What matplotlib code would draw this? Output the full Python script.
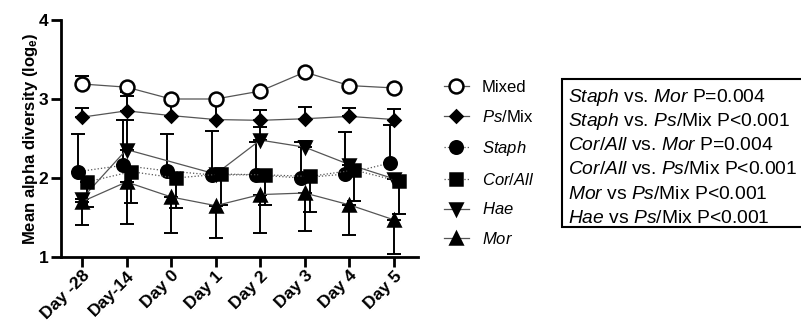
import numpy as np
import matplotlib
matplotlib.use("Agg")
import matplotlib.pyplot as plt
from matplotlib.patches import Rectangle

plt.rcParams['font.family'] = ['Liberation Sans', 'DejaVu Sans']
plt.rcParams['mathtext.fontset'] = 'custom'
plt.rcParams['mathtext.rm'] = 'Liberation Sans'
plt.rcParams['mathtext.it'] = 'Liberation Sans:italic'
plt.rcParams['mathtext.bf'] = 'Liberation Sans:bold'

days = ["Day -28", "Day-14", "Day 0", "Day 1", "Day 2", "Day 3", "Day 4", "Day 5"]
nan = np.nan

# means
mixed = [3.19, 3.15, 3.00, 3.00, 3.10, 3.34, 3.17, 3.14]
psmix = [2.77, 2.85, 2.79, 2.74, 2.73, 2.75, 2.78, 2.74]
staph = [2.08, 2.16, 2.09, 2.04, 2.04, 2.00, 2.05, 2.19]
corall = [1.95, 2.08, 2.00, 2.05, 2.04, 2.02, 2.10, 1.96]
hae = [1.74, 2.36, nan, 2.05, 2.48, 2.39, 2.17, 1.99]
mor = [1.70, 1.95, 1.76, 1.65, 1.79, 1.81, 1.66, 1.47]

# error bar ends (upper / lower), nan = not shown
mixed_hi = [3.29, nan, nan, nan, nan, nan, nan, nan]
mixed_lo = [nan, 3.09, nan, nan, nan, nan, nan, nan]
psmix_hi = [2.89, 3.04, 2.97, 2.97, 2.86, 2.90, 2.89, 2.87]
staph_hi = [2.56, 2.74, 2.56, 2.60, 2.46, 2.46, 2.58, 2.67]
hae_hi = [nan, 2.74, nan, nan, 2.65, 2.47, nan, nan]
corall_lo = [1.63, 1.68, 1.62, 1.66, 1.66, 1.57, 1.71, 1.54]
mor_lo = [1.41, 1.42, 1.30, 1.24, 1.30, 1.33, 1.28, 1.04]

legend_labels = ["Mixed", r"$\it{Ps}$/Mix", r"$\it{Staph}$", r"$\it{Cor/All}$",
                 r"$\it{Hae}$", r"$\it{Mor}$"]
stats_lines = [
    r"$\it{Staph}$ vs. $\it{Mor}$ P=0.004",
    r"$\it{Staph}$ vs. $\it{Ps}$/Mix P<0.001",
    r"$\it{Cor/All}$ vs. $\it{Mor}$ P=0.004",
    r"$\it{Cor/All}$ vs. $\it{Ps}$/Mix P<0.001",
    r"$\it{Mor}$ vs $\it{Ps}$/Mix P<0.001",
    r"$\it{Hae}$ vs $\it{Ps}$/Mix P<0.001",
]

x = np.arange(len(days))

W, H = 801, 325
fig = plt.figure(figsize=(W / 100, H / 100), dpi=100)
ax = fig.add_axes([61 / W, 1 - 257 / H, (418 - 61) / W, (257 - 20) / H])


def errs(mean, hi=None, lo=None):
    mean = np.array(mean, dtype=float)
    up = np.nan_to_num(np.array(hi, dtype=float) - mean) if hi is not None else np.zeros_like(mean)
    dn = np.nan_to_num(mean - np.array(lo, dtype=float)) if lo is not None else np.zeros_like(mean)
    return [dn, up]


def draw(xpos, mean, marker, ms, ls, face, hi=None, lo=None, z=3):
    mean = np.array(mean, dtype=float)
    ok = ~np.isnan(mean)
    e = errs(mean, hi, lo)
    ax.errorbar(xpos[ok], mean[ok], yerr=[e[0][ok], e[1][ok]], fmt='none',
                ecolor='black', elinewidth=1.4, capsize=5, capthick=1.4, zorder=z)
    line, = ax.plot(xpos[ok], mean[ok], ls=ls, color='#555555', lw=0.9,
                    marker=marker, ms=ms, mfc=face, mec='black', mew=1.8, zorder=z + 1)
    return line


h_mixed = draw(x, mixed, 'o', 10, '-', 'white', mixed_hi, mixed_lo, z=3)
h_ps = draw(x, psmix, 'D', 6.5, '-', 'black', psmix_hi, None, z=3)
h_st = draw(x - 0.09, staph, 'o', 9, ':', 'black', staph_hi, None, z=5)
h_cor = draw(x + 0.11, corall, 's', 8.5, ':', 'black', None, corall_lo, z=5)
h_hae = draw(x, hae, 'v', 9, '-', 'black', hae_hi, None, z=4)
h_mor = draw(x, mor, '^', 9, '-', 'black', None, mor_lo, z=4)

ax.set_xlim(-0.47, 7.54)
ax.set_ylim(1, 4)
ax.set_yticks([1, 2, 3, 4])
ax.set_xticks(x)
ax.set_xticklabels(days, rotation=45, ha='right', va='top', rotation_mode='anchor',
                   fontsize=12.5, fontweight='bold')
for lab in ax.get_yticklabels():
    lab.set_fontsize(12.5)
    lab.set_fontweight('bold')
ax.set_ylabel(r"Mean alpha diversity (log$_{\mathbf{e}}$)", fontsize=12,
              fontweight='bold')
ax.yaxis.set_label_coords(-0.058, 0.5)
ax.spines['top'].set_visible(False)
ax.spines['right'].set_visible(False)
ax.spines['left'].set_linewidth(2)
ax.spines['bottom'].set_linewidth(2)
ax.tick_params(width=2, length=7, pad=2)
ax.tick_params(axis='x', pad=1)

ax.legend([h_mixed, h_ps, h_st, h_cor, h_hae, h_mor], legend_labels,
          loc='upper left', bbox_to_anchor=(1.03, 0.81), frameon=False,
          fontsize=12, handlelength=1.5, labelspacing=0.83, handletextpad=0.8)

# stats box, running off the right edge as in the original
fig.patches.append(Rectangle((562 / W, 1 - 227 / H), 260 / W, 148 / H,
                             transform=fig.transFigure, fc='white', ec='black',
                             lw=1.5, clip_on=False))
for i, s in enumerate(stats_lines):
    fig.text(568 / W, 1 - (97 + i * 24.3) / H, s, fontsize=13.9,
             va='center', ha='left')

fig.savefig("out.png", dpi=100)
